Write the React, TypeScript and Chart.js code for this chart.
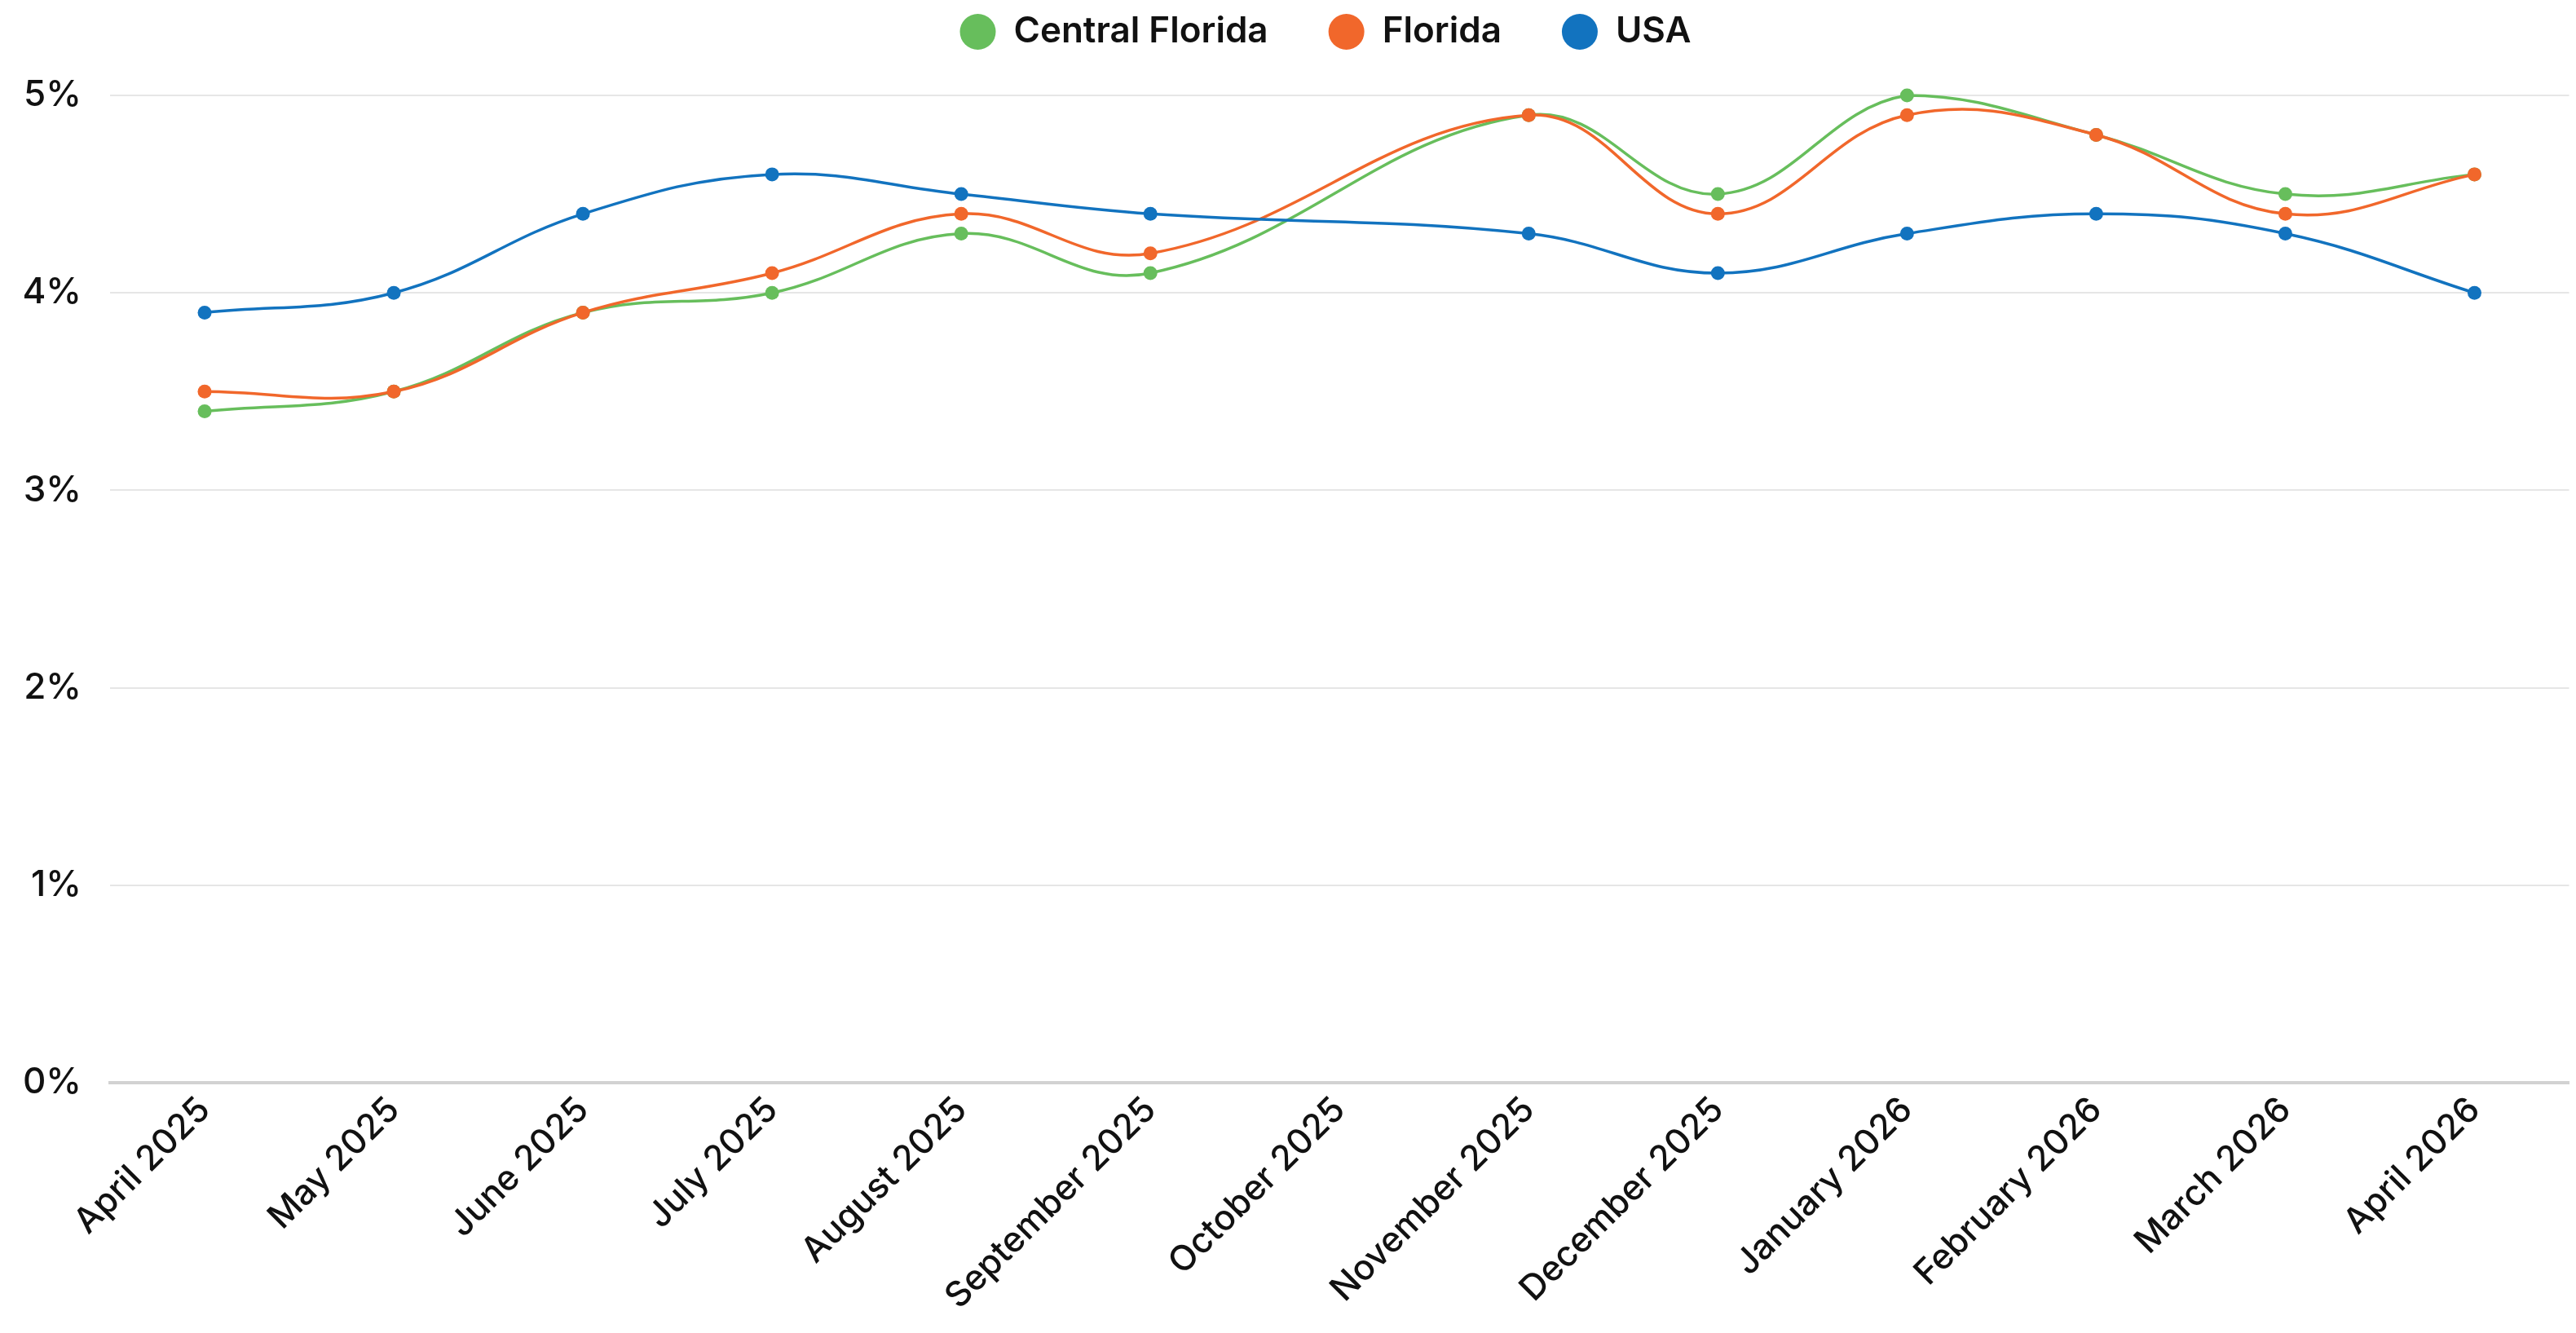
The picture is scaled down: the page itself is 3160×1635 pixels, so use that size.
import React, { useEffect, useRef } from 'react';
import { Chart, registerables } from 'chart.js';

Chart.register(...registerables);

const categories = [
  'April 2025', 'May 2025', 'June 2025', 'July 2025', 'August 2025', 'September 2025',
  'October 2025', 'November 2025', 'December 2025', 'January 2026', 'February 2026',
  'March 2026', 'April 2026',
];
const centralFlorida = [3.4, 3.5, 3.9, 4.0, 4.3, 4.1, null, 4.9, 4.5, 5.0, 4.8, 4.5, 4.6];
const florida = [3.5, 3.5, 3.9, 4.1, 4.4, 4.2, null, 4.9, 4.4, 4.9, 4.8, 4.4, 4.6];
const usa = [3.9, 4.0, 4.4, 4.6, 4.5, 4.4, null, 4.3, 4.1, 4.3, 4.4, 4.3, 4.0];
const yTicks = [0, 1, 2, 3, 4, 5];
const seriesNames = ['Central Florida', 'Florida', 'USA'];
const seriesColors = ['#67be5c', '#f1672b', '#1273bf'];

const W = 3160;
const H = 1635;
const FONT = 'Inter, "Noto Sans", sans-serif';

const legendSpacing = {
  id: 'legendSpacing',
  beforeInit(chart: any) {
    const legend = chart.legend;
    if (!legend) return;
    const origFit = legend.fit;
    legend.fit = function () {
      origFit.call(this);
      this.height += 46;
    };
  },
  afterLayout(chart: any) {
    const legend = chart.legend;
    if (!legend) return;
    legend.left += 50;
    legend.right += 50;
  },
};

export default function App() {
  const ref = useRef<HTMLCanvasElement | null>(null);

  useEffect(() => {
    if (!ref.current) return;
    const mk = (i: number, data: (number | null)[], order: number) => ({
      label: seriesNames[i],
      data,
      borderColor: seriesColors[i],
      backgroundColor: seriesColors[i],
      pointBackgroundColor: seriesColors[i],
      pointBorderWidth: 0,
      pointRadius: 8.5,
      borderWidth: 3.5,
      tension: 0.4,
      spanGaps: true,
      clip: false as any,
      order,
    });
    const chart = new Chart(ref.current, {
      type: 'line',
      data: {
        labels: categories,
        datasets: [mk(0, centralFlorida, 2), mk(1, florida, 1), mk(2, usa, 0)],
      },
      plugins: [legendSpacing],
      options: {
        responsive: false,
        animation: false,
        devicePixelRatio: 1,
        layout: { padding: { top: -57, left: 0, right: 8, bottom: 0 } },
        plugins: {
          tooltip: { enabled: false },
          legend: {
            position: 'top',
            align: 'center',
            labels: {
              usePointStyle: true,
              pointStyle: 'circle',
              boxHeight: 31,
              pointStyleWidth: 44,
              padding: 74,
              color: '#111111',
              font: { family: FONT, size: 44, weight: '600' as any },
              sort: (a: any, b: any) => a.datasetIndex - b.datasetIndex,
            },
          },
        },
        scales: {
          x: {
            offset: true,
            grid: { display: false, drawTicks: false },
            border: { display: true, color: '#d2d2d2', width: 4 },
            ticks: {
              autoSkip: false,
              maxRotation: 45,
              minRotation: 45,
              padding: 8,
              color: '#111111',
              font: { family: FONT, size: 43, weight: '500' as any },
            },
            afterFit(scale: any) {
              scale.height = 307;
            },
          },
          y: {
            min: 0,
            max: 5,
            afterBuildTicks(scale: any) {
              scale.ticks = yTicks.map((v) => ({ value: v }));
            },
            ticks: {
              padding: 35,
              color: '#111111',
              font: { family: FONT, size: 44, weight: '500' as any },
              callback: (v: any) => `${v}%`,
            },
            grid: { color: '#e6e6e6', lineWidth: 2, drawTicks: false },
            border: { display: false },
            afterFit(scale: any) {
              scale.width = 135;
            },
          },
        },
      },
    });
    return () => chart.destroy();
  }, []);

  return (
    <div style={{ position: 'fixed', left: 0, top: 0, width: W, height: H, background: '#ffffff' }}>
      <canvas ref={ref} width={W} height={H} style={{ display: 'block', width: W, height: H }} />
    </div>
  );
}
